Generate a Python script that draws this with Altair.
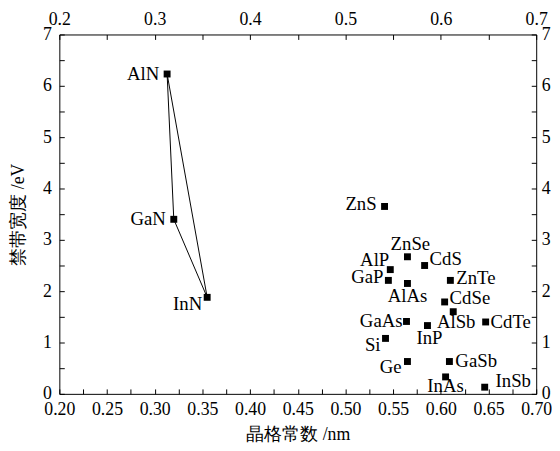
import altair as alt
import pandas as pd

names = ["AlN", "GaN", "InN", "ZnS", "ZnSe", "CdS", "AlP", "GaP", "AlAs", "ZnTe",
         "CdSe", "AlSb", "GaAs", "InP", "CdTe", "Si", "Ge", "GaSb", "InAs", "InSb"]
lattice = [0.313, 0.320, 0.355, 0.541, 0.565, 0.583, 0.547, 0.545, 0.565, 0.610,
           0.604, 0.613, 0.564, 0.586, 0.647, 0.542, 0.565, 0.609, 0.605, 0.646]
bandgap = [6.23, 3.40, 1.88, 3.65, 2.67, 2.50, 2.42, 2.21, 2.15, 2.21,
           1.79, 1.60, 1.41, 1.33, 1.40, 1.08, 0.63, 0.63, 0.33, 0.13]

triangle = ["AlN", "GaN", "InN", "AlN"]

x_ticks_bottom = [round(0.2 + 0.025 * i, 3) for i in range(21)]
x_ticks_top = [round(0.2 + 0.05 * i, 3) for i in range(11)]
y_ticks = [0.5 * i for i in range(15)]

# label placement: (align, dx, dy)
label_place = {
    "AlN": ("right", -8, 0), "GaN": ("right", -8, 0), "InN": ("right", -5, 7),
    "ZnS": ("right", -8, -2), "ZnSe": ("center", 3, -13), "CdS": ("left", 5, -7),
    "AlP": ("right", -1, -10), "GaP": ("right", -5, -3), "AlAs": ("center", 0, 13),
    "ZnTe": ("left", 6, -2), "CdSe": ("left", 5, -4), "AlSb": ("center", 3, 10),
    "GaAs": ("right", -4, 0), "InP": ("center", 2, 13), "CdTe": ("left", 5, 0),
    "Si": ("right", -5, 7), "Ge": ("right", -6, 6), "GaSb": ("left", 6, 0),
    "InAs": ("center", 0, 9), "InSb": ("left", 11, -6),
}

df = pd.DataFrame({"name": names, "a": lattice, "eg": bandgap})
lookup = dict(zip(names, zip(lattice, bandgap)))
df_tri = pd.DataFrame({
    "name": triangle,
    "a": [lookup[n][0] for n in triangle],
    "eg": [lookup[n][1] for n in triangle],
    "order": list(range(len(triangle))),
})

FONT = "Liberation Serif"
xscale = alt.Scale(domain=[0.2, 0.7], nice=False, zero=False)
yscale = alt.Scale(domain=[0, 7], nice=False, zero=False)

axis_common = dict(grid=False, domain=False, tickSize=5, offset=-5, tickColor="black",
                   tickWidth=1, labelFont=FONT, labelFontSize=18, labelColor="black",
                   titleFont=FONT, titleFontSize=18, titleColor="black",
                   titleFontWeight="normal", labelOverlap=False, labelFlush=False)

x_bottom = alt.Axis(orient="bottom", values=x_ticks_bottom,
                    labelExpr="abs(datum.value*20 - round(datum.value*20)) < 0.001 ? format(datum.value, '.2f') : ''",
                    title="晶格常数 /nm", labelPadding=7, titlePadding=7, **axis_common)
x_top = alt.Axis(orient="top", values=x_ticks_top,
                 labelExpr="abs(datum.value*10 - round(datum.value*10)) < 0.001 ? format(datum.value, '.1f') : ''",
                 title=None, labelPadding=6, **axis_common)
y_left = alt.Axis(orient="left", values=y_ticks,
                  labelExpr="datum.value % 1 == 0 ? format(datum.value, 'd') : ''",
                  title="禁带宽度 /eV", labelPadding=8, titlePadding=15, **axis_common)
y_right = alt.Axis(orient="right", values=y_ticks,
                   labelExpr="datum.value % 1 == 0 ? format(datum.value, 'd') : ''",
                   title=None, labelPadding=5, **axis_common)

points = alt.Chart(df).mark_point(shape="square", filled=True, size=49, color="black", opacity=1).encode(
    x=alt.X("a:Q", scale=xscale, axis=x_bottom),
    y=alt.Y("eg:Q", scale=yscale, axis=y_left),
)

tri = alt.Chart(df_tri).mark_line(color="black", strokeWidth=1).encode(
    x=alt.X("a:Q", scale=xscale, axis=x_top),
    y=alt.Y("eg:Q", scale=yscale, axis=y_right),
    order="order:Q",
)

texts = []
for n in names:
    align, dx, dy = label_place[n]
    texts.append(
        alt.Chart(df).transform_filter(alt.datum.name == n).mark_text(
            font=FONT, fontSize=19, color="black", align=align, baseline="middle", dx=dx, dy=dy
        ).encode(
            x=alt.X("a:Q", scale=xscale, axis=None),
            y=alt.Y("eg:Q", scale=yscale, axis=None),
            text="name:N",
        )
    )

chart = alt.layer(tri, points, *texts).resolve_axis(x="independent", y="independent").properties(
    width=483, height=364,
    autosize=alt.AutoSizeParams(type="none"),
    padding={"left": 52, "top": 24, "right": 16, "bottom": 50},
    background="white",
).configure_view(stroke="black", strokeWidth=1)

chart.save("out.html", embed_options={"renderer": "svg", "actions": False})
